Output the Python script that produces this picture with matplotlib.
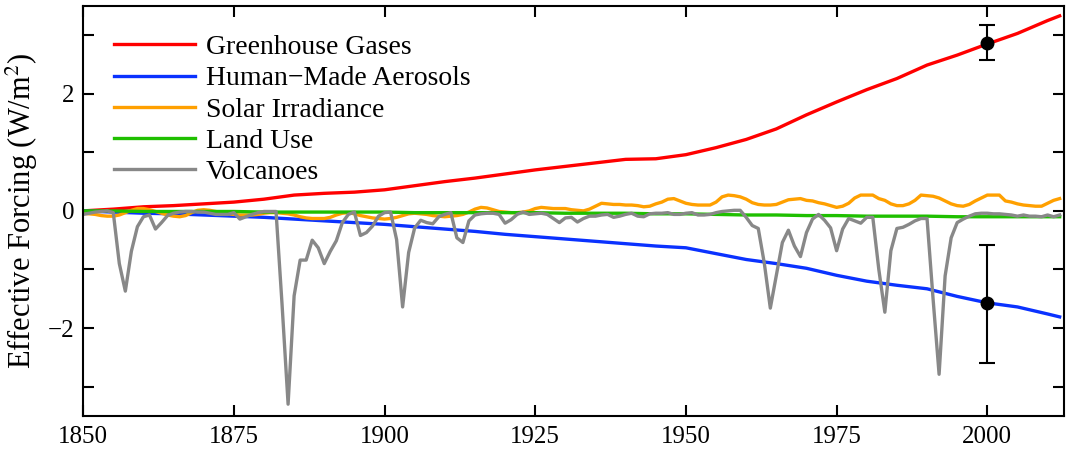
import numpy as np
import matplotlib
matplotlib.use("Agg")
import matplotlib.pyplot as plt

plt.rcParams['font.family'] = ['Liberation Serif', 'DejaVu Serif']
plt.rcParams['mathtext.fontset'] = 'stix'

# 5-year series (plus 2012)
years5 = list(range(1850, 2011, 5)) + [2012]
ghg = [0.00, 0.03, 0.07, 0.09, 0.12, 0.15, 0.20, 0.27, 0.30, 0.32,
       0.36, 0.43, 0.50, 0.56, 0.63, 0.70, 0.76, 0.82, 0.88, 0.89,
       0.96, 1.08, 1.22, 1.40, 1.64, 1.86, 2.07, 2.26, 2.49, 2.66,
       2.85, 3.03, 3.25, 3.33]
aerosols = [0.00, -0.02, -0.04, -0.05, -0.07, -0.09, -0.11, -0.14, -0.17, -0.20,
            -0.23, -0.27, -0.31, -0.35, -0.40, -0.44, -0.48, -0.52, -0.56, -0.60,
            -0.63, -0.73, -0.83, -0.90, -0.98, -1.10, -1.20, -1.27, -1.33, -1.46,
            -1.57, -1.64, -1.76, -1.81]
landuse = [0.00, 0.00, -0.01, -0.01, -0.01, -0.01, -0.02, -0.02, -0.02, -0.02,
           -0.02, -0.03, -0.03, -0.03, -0.03, -0.03, -0.04, -0.04, -0.04, -0.05,
           -0.05, -0.06, -0.07, -0.07, -0.08, -0.08, -0.09, -0.09, -0.09, -0.10,
           -0.10, -0.10, -0.10, -0.10]

# annual series 1850-2012
years = list(range(1850, 2013))
solar = [
    -0.04, -0.05, -0.06, -0.08, -0.09, -0.09, -0.07, -0.03, 0.01, 0.04,   # 1850s
    0.04, 0.02, -0.01, -0.04, -0.07, -0.09, -0.10, -0.08, -0.03, 0.01,    # 1860s
    0.02, 0.01, -0.01, -0.03, -0.05, -0.06, -0.07, -0.07, -0.07, -0.06,   # 1870s
    -0.04, -0.03, -0.03, -0.04, -0.05, -0.07, -0.10, -0.12, -0.13, -0.13, # 1880s
    -0.13, -0.11, -0.07, -0.04, -0.03, -0.05, -0.08, -0.10, -0.12, -0.13, # 1890s
    -0.14, -0.13, -0.11, -0.08, -0.05, -0.04, -0.05, -0.06, -0.08, -0.09, # 1900s
    -0.10, -0.09, -0.08, -0.06, -0.02, 0.03, 0.06, 0.05, 0.02, -0.01,     # 1910s
    -0.02, -0.03, -0.03, -0.02, 0.00, 0.04, 0.06, 0.05, 0.04, 0.04,       # 1920s
    0.04, 0.02, 0.01, 0.00, 0.03, 0.08, 0.13, 0.12, 0.11, 0.11,           # 1930s
    0.10, 0.10, 0.09, 0.07, 0.08, 0.12, 0.15, 0.20, 0.21, 0.17,           # 1940s
    0.13, 0.11, 0.10, 0.10, 0.10, 0.15, 0.24, 0.27, 0.26, 0.24,           # 1950s
    0.20, 0.14, 0.11, 0.10, 0.10, 0.11, 0.15, 0.19, 0.20, 0.21,           # 1960s
    0.18, 0.17, 0.14, 0.12, 0.09, 0.06, 0.08, 0.13, 0.22, 0.27,           # 1970s
    0.27, 0.27, 0.21, 0.18, 0.12, 0.09, 0.09, 0.12, 0.18, 0.27,           # 1980s
    0.26, 0.25, 0.22, 0.17, 0.12, 0.09, 0.08, 0.11, 0.17, 0.22,           # 1990s
    0.27, 0.27, 0.27, 0.17, 0.15, 0.12, 0.10, 0.09, 0.08, 0.08,           # 2000s
    0.13, 0.18, 0.21]                                                     # 2010-2012
volcanoes = [
    -0.06, -0.04, -0.02, -0.01, 0.00, -0.03, -0.90, -1.37, -0.69, -0.27,  # 1850s
    -0.10, -0.07, -0.31, -0.20, -0.08, -0.04, -0.02, -0.01, -0.01, -0.02, # 1860s
    -0.02, -0.04, -0.06, -0.06, -0.06, -0.03, -0.14, -0.10, -0.06, -0.03, # 1870s
    -0.01, -0.01, -0.01, -1.60, -3.30, -1.45, -0.84, -0.84, -0.50, -0.63, # 1880s
    -0.90, -0.69, -0.51, -0.20, -0.06, -0.02, -0.42, -0.37, -0.26, -0.09, # 1890s
    -0.03, -0.02, -0.49, -1.64, -0.71, -0.29, -0.16, -0.20, -0.22, -0.10, # 1900s
    -0.06, -0.03, -0.46, -0.54, -0.17, -0.07, -0.05, -0.04, -0.04, -0.06, # 1910s
    -0.21, -0.15, -0.06, -0.02, -0.06, -0.05, -0.04, -0.06, -0.13, -0.20, # 1920s
    -0.12, -0.11, -0.19, -0.13, -0.09, -0.09, -0.07, -0.06, -0.11, -0.09, # 1930s
    -0.06, -0.04, -0.09, -0.10, -0.05, -0.04, -0.04, -0.03, -0.06, -0.06, # 1940s
    -0.04, -0.03, -0.07, -0.07, -0.06, -0.03, -0.01, 0.00, 0.01, 0.01,    # 1950s
    -0.11, -0.25, -0.30, -0.89, -1.66, -1.10, -0.54, -0.33, -0.60, -0.78, # 1960s
    -0.37, -0.14, -0.06, -0.16, -0.29, -0.68, -0.31, -0.13, -0.17, -0.21, # 1970s
    -0.11, -0.11, -1.00, -1.73, -0.68, -0.30, -0.28, -0.23, -0.17, -0.13, # 1980s
    -0.13, -1.50, -2.79, -1.11, -0.46, -0.20, -0.14, -0.09, -0.05, -0.04, # 1990s
    -0.04, -0.05, -0.05, -0.06, -0.07, -0.09, -0.07, -0.09, -0.09, -0.10, # 2000s
    -0.07, -0.10, -0.07]                                                  # 2010-2012

# best estimates with uncertainty for year 2000
err_year = [2000, 2000]
err_val = [2.87, -1.57]
err_lo = [0.30, 1.02]
err_hi = [0.30, 0.98]

fig = plt.figure(figsize=(10.66, 4.55), dpi=100)
ax = fig.add_axes([0.078, 0.086, 0.920, 0.901])

lw = 2.4
ax.plot(years5, ghg, color='#ff0000', lw=lw, label='Greenhouse Gases')
ax.plot(years5, aerosols, color='#0a32ff', lw=lw, label='Human\u2212Made Aerosols')
ax.plot(years, solar, color='#ffa000', lw=lw, label='Solar Irradiance')
ax.plot(years5, landuse, color='#1fbf00', lw=lw, label='Land Use')
ax.plot(years, volcanoes, color='#888888', lw=lw, label='Volcanoes')

ax.errorbar(err_year, err_val, yerr=[err_lo, err_hi], fmt='o', color='black',
            markersize=9, elinewidth=1.5, capsize=6, capthick=1.5, zorder=5)

ax.set_xlim(1850, 2012.7)
ax.set_ylim(-3.5, 3.5)
ax.set_xticks(range(1850, 2001, 25))
ax.set_yticks([-2, 0, 2])
ax.set_yticks([-3, -1, 1, 3], minor=True)
ax.set_yticklabels(['\u22122', '0', '2'])
ax.tick_params(axis='both', which='both', direction='in', top=True, right=True,
               labelsize=18, width=1.5)
ax.tick_params(axis='both', which='major', length=8)
ax.tick_params(axis='y', which='minor', length=8)
ax.tick_params(axis='x', pad=7)
ax.tick_params(axis='y', pad=6)
for s in ax.spines.values():
    s.set_linewidth(1.5)

ax.set_ylabel('Effective Forcing (W/m$^2$)', fontsize=22, labelpad=6)

ax.legend(loc='upper left', bbox_to_anchor=(0.031, 0.93), frameon=False,
          fontsize=20, handlelength=2.95, handletextpad=0.38,
          labelspacing=0.21, borderpad=0, borderaxespad=0)

fig.savefig('out.png', dpi=100)
